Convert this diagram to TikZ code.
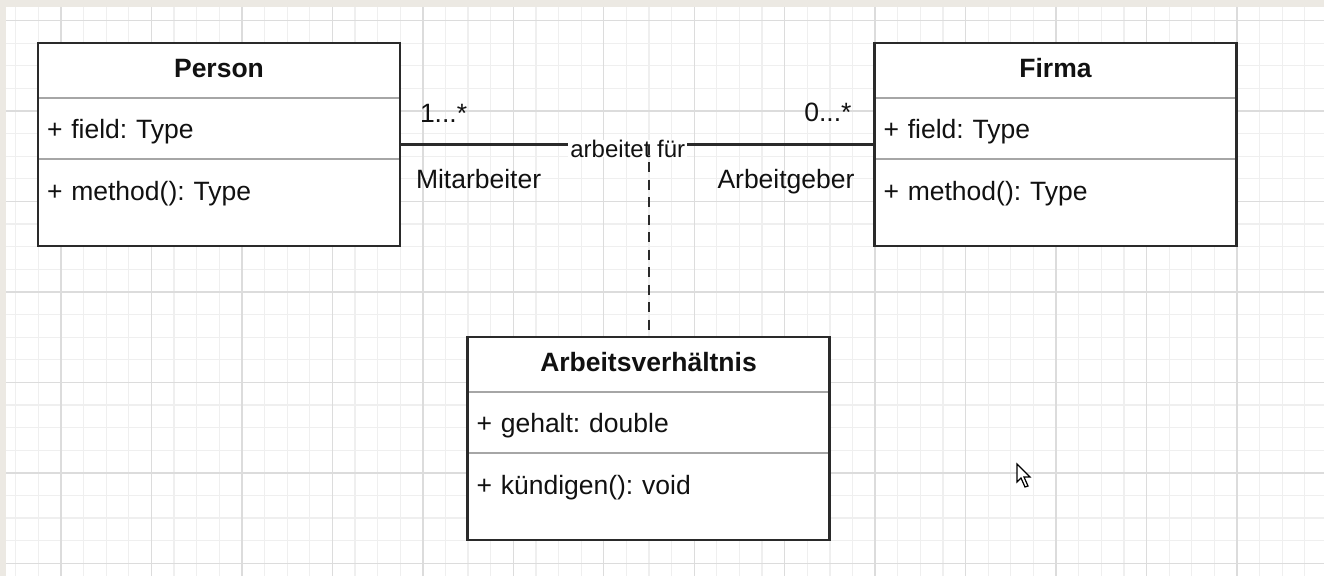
\documentclass[tikz,border=0pt]{standalone}
\usepackage{fontspec}
\setmainfont{Liberation Sans}
\usetikzlibrary{positioning,fit}
\definecolor{paper}{HTML}{ECE9E3}
\definecolor{gridmajor}{HTML}{DCDCDC}
\definecolor{gridminor}{HTML}{EFEFEF}
\definecolor{ink}{HTML}{111111}
\definecolor{frame}{HTML}{2A2A2A}
\definecolor{divider}{HTML}{A6A6A6}
\frenchspacing
\begin{document}
\begin{tikzpicture}[%
        x=1pt, y=-1pt,
        every node/.style={inner sep=0pt, outer sep=0pt, text=ink, font=\fontsize{26.5}{32}\selectfont},
        classtitle/.style={draw=divider, line width=1.5pt, fill=white, minimum width=362pt, minimum height=55pt, text depth=5pt, font=\bfseries\fontsize{26.5}{32}\selectfont},
        classattr/.style={draw=divider, line width=1.5pt, fill=white, minimum width=362pt, minimum height=61pt, text width=344pt, align=left, text depth=0pt},
        classops/.style={classattr, minimum height=87pt, text depth=24pt},
        classbox/.style={draw=frame, line width=2.5pt, fit=#1},
        assoc/.style={draw=frame, line width=2.2pt},
        assocclass/.style={draw=frame, line width=2pt, dash pattern=on 10pt off 7.5pt},
        node distance=0pt
      ]
      \useasboundingbox (0,0) rectangle (1324,576);
      \fill[paper] (0,0) rectangle (1324,576);
      \fill[white] (6,7) rectangle (1324,576);
      \foreach \k in {-2,...,55} \draw[gridminor, line width=1.2pt] ({61+22.615*\k},7) -- ({61+22.615*\k},576);
      \foreach \k in {0,...,24} \draw[gridminor, line width=1.2pt] (6,{20.5+22.615*\k}) -- (1324,{20.5+22.615*\k});
      \foreach \k in {0,...,13} \draw[gridmajor, line width=1.4pt] ({61+90.46*\k},7) -- ({61+90.46*\k},576);
      \foreach \k in {0,...,6} \draw[gridmajor, line width=1.4pt] (6,{20.5+90.46*\k}) -- (1324,{20.5+90.46*\k});

      \node [classtitle] (0) at (219,70.5) {Person};
      \node [classattr, below=of 0] (1) {+ field: Type};
      \node [classops, below=of 1] (2) {+ method(): Type};
      \node [classbox={(0)(1)(2)}] (P) {};

      \node [classtitle] (3) at (1055.5,70.5) {Firma};
      \node [classattr, below=of 3] (4) {+ field: Type};
      \node [classops, below=of 4] (5) {+ method(): Type};
      \node [classbox={(3)(4)(5)}] (F) {};

      \node [classtitle] (6) at (648.5,364.5) {Arbeitsverhältnis};
      \node [classattr, below=of 6] (7) {+ gehalt: double};
      \node [classops, below=of 7] (8) {+ kündigen(): void};
      \node [classbox={(6)(7)(8)}] (A) {};

      \path [assoc] (P) -- node [pos=0.48, yshift=-4pt, fill=white, inner xsep=2pt, font=\fontsize{24}{28}\selectfont] (9) {arbeitet für} (F);
      \path [assocclass] (A.north |- P.east) -- (A);

      \node [above right=22.5pt and 20pt of P.east] (10) {1...*};
      \node [below right=25pt and 16pt of P.east] (11) {Mitarbeiter};
      \node [above left=22.5pt and 23pt of F.west] (12) {0...*};
      \node [below left=25pt and 20pt of F.west] (13) {Arbeitgeber};

      \draw [fill=white, line width=1.2pt, line join=miter] (1017,464) -- (1017,482) -- (1021,478) -- (1025,487) -- (1028,486) -- (1024,477) -- (1030,477) -- cycle;
\end{tikzpicture}
\end{document}
